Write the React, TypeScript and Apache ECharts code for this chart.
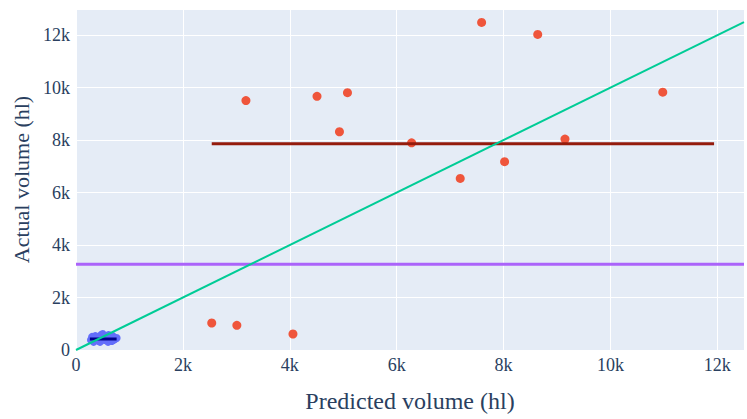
import React, { useEffect, useRef } from "react";
import * as echarts from "echarts";

// Blue group: [predicted, actual]
const bluePoints: [number, number][] = [
  [280, 380], [300, 500], [350, 420], [390, 500], [430, 340], [470, 570],
  [500, 610], [520, 460], [560, 530], [600, 310], [610, 570], [650, 500],
  [690, 530], [730, 420], [760, 460], [330, 310], [450, 310], [670, 340],
  [540, 380], [420, 450], [620, 420], [700, 380], [360, 530], [580, 470],
];
const blueMeanLine: [number, number][] = [[260, 420], [760, 420]];

// Red group: [predicted, actual]
const redPoints: [number, number][] = [
  [2540, 1030], [3010, 940], [4060, 610], [3180, 9510], [4510, 9670],
  [5080, 9810], [4930, 8320], [6280, 7900], [7590, 12490], [8640, 12030],
  [10980, 9830], [9150, 8040], [8020, 7180], [7190, 6540],
];
const redMeanLine: [number, number][] = [[2540, 7860], [11940, 7860]];

const overallMean: [number, number][] = [[0, 3270], [12500, 3270]];
const identityLine: [number, number][] = [[0, 0], [12500, 12500]];

const xRange = [0, 12500];
const yRange = [0, 13000];
const tickStep = 2000;

const fmt = (v: number) => {
  if (v % tickStep !== 0) return "";
  return v === 0 ? "0" : `${v / 1000}k`;
};

export default function App() {
  const ref = useRef<HTMLDivElement>(null);
  useEffect(() => {
    if (!ref.current) return;
    const chart = echarts.init(ref.current, null, { renderer: "svg" });
    const font = "'Liberation Serif', 'Times New Roman', serif";
    const txt = "#2a3f5f";
    chart.setOption({
      animation: false,
      backgroundColor: "#fff",
      textStyle: { fontFamily: font },
      grid: { left: 76, right: 0, top: 9, bottom: 69, backgroundColor: "#E5ECF6", show: true, borderWidth: 0 },
      xAxis: {
        type: "value",
        min: xRange[0],
        max: xRange[1],
        interval: tickStep,
        name: "Predicted volume (hl)",
        nameLocation: "middle",
        nameGap: 39,
        nameTextStyle: { fontSize: 24, color: txt, fontFamily: font },
        axisLine: { show: false },
        axisTick: { show: false },
        axisLabel: { formatter: fmt, fontSize: 18, color: txt, fontFamily: font, margin: 6 },
        splitLine: { show: true, lineStyle: { color: "#fff", width: 1 } },
      },
      yAxis: {
        type: "value",
        min: yRange[0],
        max: yRange[1],
        interval: tickStep,
        name: "Actual volume (hl)",
        nameLocation: "middle",
        nameGap: 44,
        nameTextStyle: { fontSize: 22, color: txt, fontFamily: font },
        axisLine: { show: false },
        axisTick: { show: false },
        axisLabel: { formatter: fmt, fontSize: 18, color: txt, fontFamily: font, margin: 6 },
        splitLine: { show: true, lineStyle: { color: "#fff", width: 1 } },
      },
      series: [
        {
          type: "scatter",
          data: bluePoints,
          symbolSize: 8,
          itemStyle: { color: "#636efa", opacity: 1 },
        },
        {
          type: "line",
          data: blueMeanLine,
          symbol: "none",
          lineStyle: { color: "#00008b", width: 3 },
        },
        {
          type: "line",
          data: redMeanLine,
          symbol: "none",
          lineStyle: { color: "#941b0c", width: 3 },
        },
        {
          type: "scatter",
          data: redPoints,
          symbolSize: 9,
          itemStyle: { color: "#ef553b", opacity: 1 },
        },
        {
          type: "line",
          data: overallMean,
          symbol: "none",
          lineStyle: { color: "#ab63fa", width: 3 },
        },
        {
          type: "line",
          data: identityLine,
          symbol: "none",
          lineStyle: { color: "#00cc96", width: 2 },
        },
      ],
    });
    return () => chart.dispose();
  }, []);
  return (
    <div
      ref={ref}
      style={{ position: "fixed", left: 0, top: 0, width: 747, height: 419 }}
    />
  );
}
